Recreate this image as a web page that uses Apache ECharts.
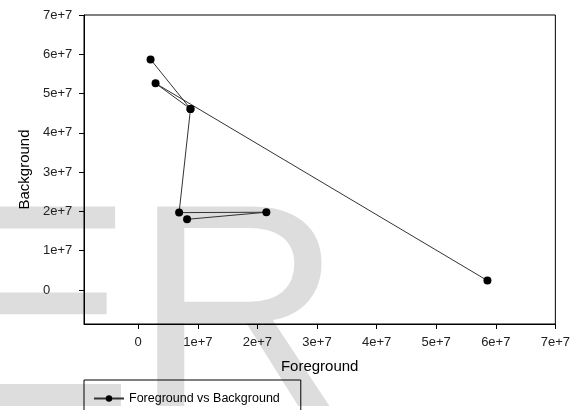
<!DOCTYPE html>
<html>
<head>
<meta charset="utf-8">
<script src="https://cdn.jsdelivr.net/npm/echarts@6/dist/echarts.min.js"></script>
<style>
  html, body { margin: 0; padding: 0; background: #fff; }
  #chart { width: 573px; height: 410px; }
</style>
</head>
<body>
<div id="chart"></div>
<script>
// Measured samples: foreground vs background counts
const foreground = [2.07e6, 2.91e6, 8.77e6, 6.86e6, 2.15e7, 8.2e6, 5.86e7];
const background = [5.87e7, 5.26e7, 4.61e7, 1.97e7, 1.98e7, 1.80e7, 2.4e6];
// Order in which the samples are joined (two traces)
const traceA = [0, 2, 3, 4, 5];
const traceB = [2, 1, 6];

const tickValues = [0, 1e7, 2e7, 3e7, 4e7, 5e7, 6e7, 7e7];
const tickLabels = ['0', '1e+7', '2e+7', '3e+7', '4e+7', '5e+7', '6e+7', '7e+7'];

const seriesName = 'Foreground vs Background';
const FONT = '"Liberation Sans", Arial, sans-serif';

function pts(order) {
  return order.map(i => [foreground[i], background[i]]);
}
function fmt(v) {
  const i = tickValues.indexOf(v);
  return i >= 0 ? tickLabels[i] : '';
}

const chart = echarts.init(document.getElementById('chart'), null, { renderer: 'canvas' });

function lineSeries(order) {
  return {
    name: seriesName,
    type: 'line',
    data: pts(order),
    symbol: 'circle',
    symbolSize: 8,
    showAllSymbol: true,
    itemStyle: { color: '#000' },
    lineStyle: { color: '#333', width: 1 },
    emphasis: { disabled: true },
    animation: false,
    z: 3
  };
}

chart.setOption({
  animation: false,
  backgroundColor: '#fff',
  graphic: [{
    type: 'text',
    z: -10,
    silent: true,
    x: -60,
    y: 471,
    style: {
      text: 'ER',
      font: '290px ' + FONT,
      fill: '#dddddd',
      verticalAlign: 'bottom'
    }
  }],
  grid: {
    left: 84, right: 17, top: 15, bottom: 86,
    show: true, borderColor: '#000', borderWidth: 1,
    backgroundColor: 'transparent'
  },
  legend: {
    data: [seriesName],
    left: 84, top: 380,
    orient: 'horizontal',
    padding: [12, 21, 12, 9],
    itemWidth: 30, itemHeight: 8, itemGap: 7,
    borderColor: '#000', borderWidth: 1,
    backgroundColor: 'transparent',
    textStyle: { fontFamily: FONT, fontSize: 12.5, color: '#000' },
    selectedMode: false
  },
  xAxis: {
    type: 'value',
    min: -9.1e6, max: 7e7,
    name: 'Foreground',
    nameLocation: 'middle',
    nameGap: 35,
    nameTextStyle: { fontFamily: FONT, fontSize: 15, color: '#000' },
    splitLine: { show: false },
    axisLine: { show: true, onZero: false, lineStyle: { color: '#000', width: 1 } },
    axisTick: { show: true, length: 5, customValues: tickValues, lineStyle: { color: '#000' } },
    axisLabel: {
      customValues: tickValues, formatter: fmt, margin: 12,
      fontFamily: FONT, fontSize: 13, color: '#222'
    }
  },
  yAxis: {
    type: 'value',
    min: -8.65e6, max: 7e7,
    name: 'Background',
    nameLocation: 'middle',
    nameGap: 52,
    nameTextStyle: { fontFamily: FONT, fontSize: 15, color: '#000' },
    splitLine: { show: false },
    axisLine: { show: true, onZero: false, lineStyle: { color: '#000', width: 1 } },
    axisTick: { show: true, length: 5, customValues: tickValues, lineStyle: { color: '#000' } },
    axisLabel: {
      customValues: tickValues, formatter: fmt, margin: 41, align: 'left',
      fontFamily: FONT, fontSize: 13, color: '#222'
    }
  },
  series: [lineSeries(traceA), lineSeries(traceB)]
});
</script>
</body>
</html>
